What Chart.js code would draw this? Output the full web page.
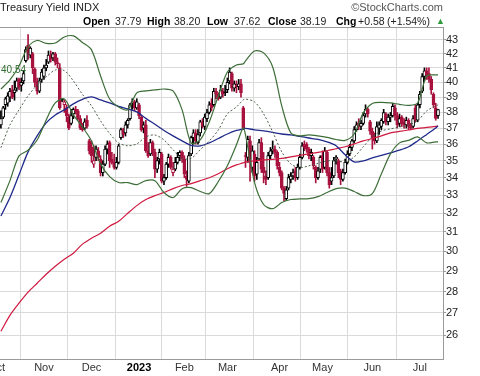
<!DOCTYPE html>
<html>
<head>
<meta charset="utf-8">
<title>Treasury Yield INDX</title>
<script src="https://cdn.jsdelivr.net/npm/chart.js@4.4.1/dist/chart.umd.min.js"></script>
<style>
  body { margin: 0; background: #fff; }
  #wrap { position: relative; width: 480px; height: 376px; font-family: Arial, "Liberation Sans", sans-serif; }
  #wrap canvas { position: absolute; left: 0; top: 0; }
  .lbl { position: absolute; font-size: 11px; line-height: 13px; color: #222; white-space: nowrap; }
  .row2 { font-size: 10.5px; }
  .b { font-weight: bold; color: #000; }
</style>
</head>
<body>
<div id="wrap">
  <canvas id="yieldChart" width="480" height="376"></canvas>
  <div class="lbl" style="left:0;top:1px">Treasury Yield</div>
  <div class="lbl" style="left:73px;top:1px">INDX</div>
  <div class="lbl" style="right:37px;top:1px;color:#555">©StockCharts.com</div>
  <div class="lbl row2 b" style="left:83px;top:15px">Open</div>
  <div class="lbl row2" style="left:115px;top:15px">37.79</div>
  <div class="lbl row2 b" style="left:147px;top:15px">High</div>
  <div class="lbl row2" style="left:174px;top:15px">38.20</div>
  <div class="lbl row2 b" style="left:207px;top:15px">Low</div>
  <div class="lbl row2" style="left:234px;top:15px">37.62</div>
  <div class="lbl row2 b" style="left:268px;top:15px">Close</div>
  <div class="lbl row2" style="left:300px;top:15px">38.19</div>
  <div class="lbl row2 b" style="left:336px;top:15px">Chg</div>
  <div class="lbl row2" style="left:358px;top:15px">+0.58</div>
  <div class="lbl row2" style="left:387px;top:15px">(+1.54%)</div>
  <div class="lbl" style="left:436px;top:15px;color:#2e9a3a;font-size:9px">▲</div>
  <div class="lbl" style="left:1px;top:63px;color:#2f6b2f;font-size:10px">40.54</div>
</div>
<script>
// trading days since Oct 5 2022 (index 0) through Jul 14 2023
const opens = [
  37.2, 37.7, 38.5, 38.6, 39.0, 39.5, 39.3, 39.6, 40.2, 39.8,
  40.1, 41.5, 42.6, 41.9, 42.0, 40.9, 40.0, 39.4, 40.2, 40.4,
  41.0, 41.4, 41.9, 41.7, 42.0, 41.3, 41.0, 38.8, 38.5, 38.3,
  37.7, 37.3, 37.9, 38.2, 38.1, 37.6, 37.0, 37.0, 37.5, 36.2,
  35.8, 34.8, 35.2, 35.6, 35.1, 34.3, 34.8, 35.7, 36.1, 35.1,
  34.9, 34.6, 34.9, 36.4, 36.9, 36.7, 37.2, 37.6, 38.6, 38.7,
  38.3, 38.5, 37.7, 37.0, 37.2, 35.6, 35.4, 36.1, 35.5, 34.5,
  35.1, 35.4, 33.8, 34.0, 34.8, 35.2, 34.3, 34.5, 34.9, 35.3,
  35.5, 35.1, 34.1, 33.8, 35.4, 36.4, 36.7, 36.1, 36.7, 37.4,
  37.1, 37.6, 38.0, 38.6, 38.5, 39.4, 39.2, 39.0, 39.4, 39.3,
  39.5, 40.1, 40.6, 39.6, 39.8, 39.7, 39.9, 38.3, 35.3, 35.2,
  36.2, 34.6, 35.4, 34.2, 35.1, 36.1, 34.6, 34.1, 34.0, 35.3,
  35.6, 35.7, 35.5, 34.6, 34.3, 33.4, 32.8, 33.4, 33.9, 34.1,
  34.4, 34.0, 34.6, 35.2, 36.0, 36.0, 35.7, 35.3, 35.2, 34.6,
  34.0, 34.5, 35.3, 34.6, 35.5, 34.3, 33.8, 34.1, 35.1, 35.0,
  34.4, 33.9, 34.3, 34.9, 35.4, 35.8, 36.2, 36.9, 37.3, 37.1,
  37.3, 37.9, 38.2, 37.4, 36.8, 36.4, 36.2, 37.0, 37.1, 37.4,
  37.9, 37.4, 37.7, 37.8, 38.3, 37.8, 37.3, 37.7, 37.4, 37.2,
  37.5, 37.1, 37.1, 38.3, 37.5, 38.5, 39.4, 40.4, 40.8, 40.6,
  40.2, 39.2, 38.3, 37.79
];
const highs = [
  38.1, 38.4, 39.0, 39.3, 39.6, 39.8, 40.1, 40.3, 40.3, 40.3,
  40.8, 42.5, 43.4, 42.5, 42.1, 41.0, 40.3, 40.3, 40.9, 41.2,
  41.6, 42.2, 42.2, 42.1, 42.1, 41.7, 41.3, 38.9, 38.8, 38.5,
  37.9, 38.2, 38.3, 38.4, 38.2, 37.8, 37.3, 37.6, 37.8, 36.3,
  36.2, 35.9, 35.9, 35.8, 35.3, 35.0, 35.9, 36.2, 36.2, 35.5,
  35.4, 35.2, 36.0, 37.0, 37.0, 37.4, 37.6, 38.6, 38.9, 38.8,
  38.9, 38.6, 37.8, 37.4, 37.5, 36.1, 36.3, 36.2, 35.7, 35.2,
  35.7, 35.5, 34.2, 34.9, 35.4, 35.3, 34.9, 35.2, 35.5, 35.6,
  35.6, 35.3, 34.4, 35.5, 36.5, 36.9, 36.9, 36.9, 37.5, 37.6,
  37.9, 38.2, 38.7, 38.9, 39.6, 39.6, 39.3, 39.8, 39.6, 39.8,
  40.3, 41.0, 40.7, 40.1, 40.1, 40.2, 40.2, 38.4, 35.5, 36.5,
  36.5, 35.9, 35.6, 35.2, 36.3, 36.4, 35.5, 34.4, 35.5, 35.8,
  36.2, 35.9, 35.6, 34.9, 34.4, 33.5, 33.5, 34.2, 34.3, 34.5,
  34.6, 34.8, 35.4, 36.1, 36.2, 36.1, 35.8, 35.7, 35.3, 34.7,
  34.6, 35.3, 35.6, 35.8, 35.6, 34.6, 34.6, 35.2, 35.3, 35.1,
  34.5, 34.5, 35.1, 35.6, 36.0, 36.3, 37.1, 37.4, 37.6, 37.5,
  38.0, 38.5, 38.3, 37.5, 37.0, 36.7, 37.4, 37.4, 37.6, 38.2,
  38.0, 37.9, 38.0, 38.6, 38.5, 38.0, 37.9, 37.8, 37.6, 37.7,
  37.6, 37.3, 37.8, 38.5, 38.6, 39.4, 40.6, 41.0, 41.0, 41.0,
  40.4, 39.3, 38.6, 38.20
];
const lows = [
  37.0, 37.6, 38.2, 38.4, 38.7, 38.9, 38.8, 39.4, 39.5, 39.4,
  39.9, 41.4, 41.6, 41.7, 40.6, 39.7, 39.2, 39.3, 40.0, 40.2,
  40.8, 41.3, 41.4, 41.5, 41.2, 41.0, 38.2, 38.7, 38.0, 37.4,
  36.9, 37.2, 37.6, 37.9, 37.5, 36.9, 36.8, 36.9, 37.0, 35.4,
  34.9, 34.6, 35.0, 35.0, 34.1, 34.1, 34.7, 35.4, 34.6, 34.8,
  34.5, 34.5, 34.8, 36.3, 36.4, 36.5, 37.0, 37.5, 38.2, 38.1,
  38.2, 37.6, 36.8, 36.7, 35.5, 35.2, 35.3, 35.3, 34.0, 34.3,
  34.8, 33.7, 33.6, 33.9, 34.6, 34.5, 34.1, 34.4, 34.8, 35.0,
  34.9, 34.0, 33.5, 33.7, 35.3, 36.0, 36.0, 36.0, 36.5, 37.0,
  36.9, 37.4, 37.9, 38.1, 38.4, 38.9, 38.8, 38.9, 39.0, 39.1,
  39.3, 39.9, 39.4, 39.4, 39.3, 39.5, 39.0, 36.9, 34.6, 34.9,
  33.8, 34.3, 33.8, 33.9, 35.0, 34.3, 33.7, 33.6, 33.9, 35.1,
  35.4, 35.2, 34.5, 34.1, 33.3, 32.7, 32.7, 33.3, 33.7, 33.9,
  33.8, 33.9, 34.5, 35.1, 35.6, 35.5, 35.1, 35.0, 34.5, 33.7,
  33.9, 34.3, 34.3, 34.5, 34.1, 33.4, 33.6, 34.0, 34.8, 34.0,
  33.6, 33.8, 34.2, 34.8, 35.3, 35.6, 36.1, 36.8, 36.9, 36.9,
  37.2, 37.7, 37.7, 36.6, 35.7, 36.0, 36.1, 36.6, 36.9, 37.3,
  37.2, 37.2, 37.4, 37.7, 37.5, 37.0, 37.1, 37.1, 37.0, 37.0,
  36.9, 36.9, 37.0, 37.4, 37.4, 38.3, 39.3, 40.1, 40.2, 40.0,
  39.2, 38.3, 37.5, 37.62
];
const closes = [
  37.6, 38.3, 38.9, 39.1, 39.4, 39.0, 39.5, 40.1, 39.7, 40.0,
  40.6, 42.3, 42.1, 42.4, 41.0, 40.0, 39.4, 40.1, 40.7, 41.0,
  41.2, 41.9, 41.6, 42.0, 41.4, 41.3, 38.3, 38.8, 38.7, 37.8,
  37.0, 37.8, 38.2, 38.1, 37.6, 37.0, 36.9, 37.4, 37.1, 35.6,
  35.3, 35.0, 35.7, 35.2, 34.3, 34.8, 35.7, 36.0, 35.0, 34.9,
  34.6, 34.9, 35.9, 36.9, 36.6, 37.2, 37.5, 38.5, 38.7, 38.3,
  38.7, 37.8, 36.9, 37.2, 35.6, 35.3, 36.1, 35.5, 34.5, 35.0,
  35.5, 33.8, 34.0, 34.8, 35.2, 34.6, 34.5, 34.9, 35.2, 35.5,
  35.1, 34.2, 33.9, 35.3, 36.4, 36.7, 36.2, 36.6, 37.4, 37.1,
  37.7, 38.0, 38.5, 38.3, 39.4, 39.2, 38.9, 39.5, 39.2, 39.3,
  40.0, 40.7, 39.6, 39.9, 39.7, 39.9, 39.3, 37.0, 35.25, 36.3,
  34.9, 35.6, 34.1, 34.9, 36.1, 34.5, 34.3, 33.9, 35.3, 35.6,
  35.7, 35.5, 34.7, 34.3, 33.4, 33.1, 33.3, 34.0, 34.1, 34.3,
  34.0, 34.6, 35.2, 35.9, 35.8, 35.7, 35.3, 35.5, 34.7, 34.0,
  34.4, 35.2, 34.5, 35.6, 34.3, 33.6, 34.0, 35.0, 35.2, 34.3,
  33.9, 34.3, 34.9, 35.4, 35.8, 36.2, 36.9, 37.2, 37.1, 37.3,
  37.8, 38.2, 37.9, 36.8, 36.4, 36.2, 37.1, 37.2, 37.5, 38.0,
  37.4, 37.7, 37.8, 38.4, 37.8, 37.2, 37.6, 37.3, 37.2, 37.5,
  37.1, 37.0, 37.6, 37.5, 38.5, 39.2, 40.4, 40.8, 40.5, 40.2,
  39.5, 38.5, 37.61, 38.19
];

// overlay lines, sampled on these trading days
const bandDays = [0, 4, 8, 12, 16, 20, 24, 28, 32, 36, 40, 44, 48, 52, 56, 60, 64, 68, 72, 76,
  80, 84, 88, 92, 96, 100, 104, 107, 108, 112, 116, 120, 124, 128, 132, 136, 140, 144, 148, 152,
  156, 160, 164, 168, 172, 176, 180, 184, 188, 192, 193];
const upperBand = [39.55, 40.17, 41.13, 42.49, 42.96, 42.75, 42.78, 43.22, 43.30, 42.82,
  42.28, 40.44, 38.88, 38.36, 38.17, 39.29, 39.42, 39.49, 39.55, 39.42,
  38.17, 36.08, 36.26, 37.39, 39.09, 40.71, 41.20, 41.28, 41.49, 42.20,
  42.06, 41.06, 38.43, 36.70, 36.51, 36.57, 36.51, 36.42, 36.29, 36.23,
  36.63, 37.97, 38.59, 38.66, 38.62, 38.53, 38.46, 38.62, 40.44, 40.51, 40.51];
const middleBand = [35.78, 37.20, 38.17, 39.09, 39.82, 40.37, 40.85, 40.81, 40.10, 39.19,
  38.43, 37.46, 36.66, 36.08, 35.90, 36.02, 36.45, 36.57, 36.26, 35.66,
  35.14, 35.14, 35.66, 36.20, 36.88, 37.91, 38.36, 38.82, 38.88, 38.69,
  37.91, 36.76, 35.53, 34.81, 34.58, 34.70, 34.84, 34.99, 34.99, 34.93,
  35.23, 35.84, 36.45, 36.82, 36.95, 37.07, 37.20, 37.46, 38.10, 38.43, 38.49];
const lowerBand = [32.59, 33.83, 35.29, 35.63, 36.26, 37.52, 38.62, 38.88, 37.84, 37.07,
  36.20, 34.81, 34.06, 33.72, 33.72, 33.60, 33.83, 33.83, 33.15, 32.87,
  33.37, 33.43, 33.21, 33.09, 33.78, 34.70, 35.96, 37.01, 36.57, 33.72,
  32.48, 32.25, 32.59, 32.76, 32.79, 32.81, 32.92, 33.15, 33.37, 33.40,
  33.21, 32.98, 33.09, 34.23, 35.41, 36.08, 36.23, 36.45, 36.08, 36.14, 36.14];
const ma50 = [31.85, 32.87, 34.17, 35.53, 36.51, 37.33, 37.84, 38.17, 38.56, 38.86,
  39.02, 38.82, 38.62, 38.40, 38.23, 38.04, 37.62, 37.24, 36.85, 36.51,
  36.20, 35.93, 35.90, 36.08, 36.35, 36.63, 36.85, 36.95, 36.98, 36.89,
  36.82, 36.73, 36.63, 36.57, 36.48, 36.38, 36.29, 36.14, 35.90, 35.35,
  34.93, 34.99, 35.17, 35.32, 35.47, 35.63, 35.84, 36.20, 36.60, 37.01, 37.14];
const ma200 = [26.17, 26.89, 27.45, 27.97, 28.40, 28.84, 29.24, 29.59, 29.89, 30.36,
  30.67, 30.93, 31.30, 31.57, 32.00, 32.42, 32.76, 32.98, 33.15, 33.37,
  33.55, 33.66, 33.83, 34.00, 34.23, 34.52, 34.75, 34.87, 34.93, 34.99,
  35.05, 35.08, 35.14, 35.23, 35.32, 35.41, 35.50, 35.60, 35.72, 35.84,
  36.02, 36.20, 36.35, 36.51, 36.70, 36.79, 36.88, 36.98, 37.04, 37.11, 37.14];

// axis ticks
const monthTicks = [-2, 19, 40, 61, 81, 100, 123, 142, 164, 185];
const monthLabels = ['Oct', 'Nov', 'Dec', '2023', 'Feb', 'Mar', 'Apr', 'May', 'Jun', 'Jul'];
const yTicks = [26, 27, 28, 29, 30, 31, 32, 33, 34, 35, 36, 37, 38, 39, 40, 41, 42, 43];

Chart.defaults.font.family = 'Arial, "Liberation Sans", sans-serif';

const candleColor = i => {
  const prev = i > 0 ? closes[i - 1] : opens[i];
  return closes[i] >= prev ? '#000000' : '#a8123e';
};

const dayIdx = closes.map((c, i) => i);
const wickData = dayIdx.map(i => ({ x: i, y: [lows[i], highs[i]] }));
const bodyData = dayIdx.map(i => ({ x: i, y: [Math.min(opens[i], closes[i]), Math.max(opens[i], closes[i])] }));
const pts = vals => bandDays.map((d, k) => ({ x: d, y: vals[k] }));

const lineSet = (vals, color, width, dash) => ({
  type: 'line',
  data: pts(vals),
  borderColor: color,
  borderWidth: width,
  borderDash: dash || [],
  pointRadius: 0,
  tension: 0.3,
  fill: false,
  order: 0
});

// top edge of the plot frame
const frame = {
  id: 'frame',
  afterDraw(chart) {
    const { ctx, chartArea: a } = chart;
    ctx.save();
    ctx.strokeStyle = '#9a9a9a';
    ctx.lineWidth = 1;
    ctx.beginPath();
    ctx.moveTo(a.left, a.top + 0.5);
    ctx.lineTo(a.right, a.top + 0.5);
    ctx.stroke();
    ctx.restore();
  }
};

new Chart(document.getElementById('yieldChart'), {
  type: 'line',
  data: {
    datasets: [
      lineSet(upperBand, '#3d6e38', 1.2),
      lineSet(lowerBand, '#3d6e38', 1.2),
      lineSet(middleBand, '#4c5f4a', 1, [2, 2]),
      lineSet(ma50, '#1f2a8a', 1.3),
      lineSet(ma200, '#d0183f', 1.2),
      {
        type: 'bar',
        data: bodyData,
        grouped: false,
        barThickness: 3,
        minBarLength: 1,
        borderWidth: 1,
        borderSkipped: false,
        backgroundColor: ctx => closes[ctx.dataIndex] > opens[ctx.dataIndex] ? '#ffffff' : candleColor(ctx.dataIndex),
        borderColor: ctx => candleColor(ctx.dataIndex),
        order: 1
      },
      {
        type: 'bar',
        data: wickData,
        grouped: false,
        barThickness: 1,
        backgroundColor: ctx => candleColor(ctx.dataIndex),
        order: 2
      }
    ]
  },
  options: {
    responsive: false,
    animation: false,
    layout: { padding: { top: 27, left: 0, right: 0, bottom: 0 } },
    plugins: { legend: { display: false }, tooltip: { enabled: false } },
    scales: {
      x: {
        type: 'linear',
        min: -0.4,
        max: 195.2,
        bounds: 'data',
        offset: false,
        grid: { color: '#dadada', drawTicks: false },
        border: { display: true, color: '#9a9a9a' },
        afterBuildTicks: s => { s.ticks = monthTicks.map(v => ({ value: v })); },
        afterFit: s => { s.height = 17; s.paddingLeft = 0; s.paddingRight = 0; },
        ticks: {
          autoSkip: false,
          maxRotation: 0,
          padding: 2,
          color: ctx => (ctx.tick && ctx.tick.value === 61) ? '#000' : '#333',
          font: ctx => (ctx.tick && ctx.tick.value === 61) ? { size: 11, weight: 'bold' } : { size: 11 },
          callback: v => monthLabels[monthTicks.indexOf(v)]
        }
      },
      y: {
        type: 'logarithmic',
        position: 'right',
        min: 24.96,
        max: 43.96,
        bounds: 'data',
        grid: { color: '#dadada', tickLength: 3, tickColor: '#9a9a9a' },
        border: { display: true, color: '#9a9a9a' },
        afterBuildTicks: s => { s.ticks = yTicks.map(v => ({ value: v })); },
        afterFit: s => { s.width = 37; },
        ticks: { padding: 0, color: '#222', font: { size: 11 }, callback: v => String(v) }
      }
    }
  },
  plugins: [frame]
});
</script>
</body>
</html>
